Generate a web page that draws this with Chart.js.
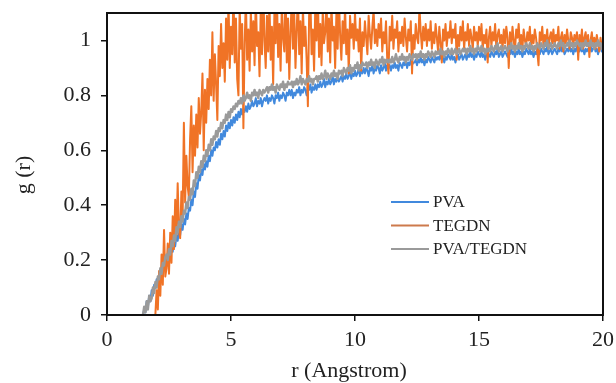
<!DOCTYPE html>
<html>
<head>
<meta charset="utf-8">
<script src="https://cdn.jsdelivr.net/npm/chart.js@4.4.1/dist/chart.umd.min.js"></script>
<style>
  html, body { margin: 0; padding: 0; background: #fff; }
  #wrap { width: 616px; height: 383px; position: relative; }
</style>
</head>
<body>
<div id="wrap"><canvas id="rdf"></canvas></div>
<script>
// sampling grid of r (Angstrom)
const rStep = 0.05;
const pvaStart = 1.40;
const tegdnStart = 1.90;
const blendStart = 1.40;

const seriesNames = ['PVA', 'TEGDN', 'PVA/TEGDN'];

// g(r) of PVA, one row per Angstrom
const pvaValues = [
  0.00, 0.00, 0.02, 0.01, 0.05, 0.03, 0.07, 0.05, 0.09, 0.07, 0.11, 0.10, 0.13, 0.11, 0.15, 0.13, 0.17, 0.15, 0.18, 0.17,
  0.20, 0.18, 0.22, 0.20, 0.25, 0.23, 0.27, 0.25, 0.29, 0.27, 0.31, 0.29, 0.33, 0.31, 0.35, 0.33, 0.37, 0.35, 0.39, 0.38,
  0.42, 0.40, 0.45, 0.43, 0.48, 0.46, 0.51, 0.49, 0.53, 0.51, 0.55, 0.53, 0.56, 0.54, 0.58, 0.56, 0.60, 0.58, 0.61, 0.60,
  0.63, 0.61, 0.64, 0.62, 0.66, 0.64, 0.67, 0.65, 0.69, 0.67, 0.70, 0.68, 0.71, 0.69, 0.72, 0.70, 0.73, 0.71, 0.74, 0.72,
  0.75, 0.73, 0.75, 0.74, 0.76, 0.74, 0.77, 0.75, 0.76, 0.78, 0.76, 0.77, 0.79, 0.76, 0.78, 0.77, 0.79, 0.76, 0.78, 0.79,
  0.78, 0.80, 0.77, 0.79, 0.78, 0.80, 0.79, 0.77, 0.80, 0.79, 0.81, 0.78, 0.80, 0.79, 0.81, 0.80, 0.78, 0.81, 0.80, 0.82,
  0.80, 0.82, 0.79, 0.81, 0.80, 0.82, 0.81, 0.83, 0.80, 0.82, 0.81, 0.83, 0.82, 0.80, 0.83, 0.82, 0.84, 0.81, 0.83, 0.82,
  0.84, 0.82, 0.84, 0.83, 0.85, 0.83, 0.84, 0.86, 0.83, 0.85, 0.84, 0.86, 0.84, 0.85, 0.87, 0.84, 0.86, 0.85, 0.87, 0.85,
  0.86, 0.87, 0.85, 0.87, 0.86, 0.88, 0.86, 0.87, 0.89, 0.86, 0.88, 0.87, 0.89, 0.87, 0.88, 0.90, 0.87, 0.89, 0.88, 0.90,
  0.88, 0.90, 0.89, 0.87, 0.90, 0.89, 0.91, 0.88, 0.90, 0.89, 0.91, 0.90, 0.88, 0.91, 0.89, 0.90, 0.92, 0.89, 0.91, 0.90,
  0.91, 0.89, 0.91, 0.90, 0.92, 0.90, 0.91, 0.89, 0.92, 0.91, 0.90, 0.92, 0.91, 0.93, 0.90, 0.92, 0.91, 0.93, 0.91, 0.92,
  0.92, 0.93, 0.91, 0.93, 0.92, 0.94, 0.92, 0.93, 0.91, 0.93, 0.92, 0.94, 0.93, 0.92, 0.94, 0.93, 0.92, 0.94, 0.93, 0.94,
  0.93, 0.95, 0.93, 0.94, 0.92, 0.94, 0.93, 0.95, 0.94, 0.93, 0.95, 0.93, 0.94, 0.92, 0.94, 0.95, 0.93, 0.94, 0.95, 0.93,
  0.94, 0.95, 0.93, 0.95, 0.94, 0.96, 0.94, 0.95, 0.93, 0.95, 0.94, 0.96, 0.95, 0.94, 0.96, 0.94, 0.95, 0.93, 0.95, 0.94,
  0.95, 0.94, 0.96, 0.95, 0.94, 0.96, 0.95, 0.97, 0.94, 0.95, 0.96, 0.94, 0.95, 0.96, 0.95, 0.94, 0.96, 0.95, 0.97, 0.95,
  0.96, 0.94, 0.96, 0.95, 0.97, 0.95, 0.96, 0.94, 0.96, 0.95, 0.97, 0.96, 0.95, 0.97, 0.95, 0.96, 0.94, 0.96, 0.95, 0.97,
  0.96, 0.95, 0.97, 0.96, 0.95, 0.97, 0.96, 0.98, 0.95, 0.96, 0.97, 0.95, 0.96, 0.97, 0.96, 0.95, 0.97, 0.96, 0.98, 0.96,
  0.97, 0.95, 0.96, 0.97, 0.96, 0.98, 0.96, 0.97, 0.95, 0.97, 0.96, 0.98, 0.97, 0.96, 0.98, 0.96, 0.97, 0.95, 0.97, 0.96,
  0.97, 0.96, 0.98, 0.96, 0.97, 0.98, 0.96, 0.97, 0.95, 0.97, 0.98, 0.96, 0.97
];

// g(r) of TEGDN
const tegdnValues = [
  0.00, 0.00, 0.09, 0.02, 0.16, 0.07, 0.22, 0.11, 0.31, 0.14, 0.17, 0.26, 0.15, 0.30, 0.19, 0.36, 0.24, 0.42, 0.29, 0.48,
  0.31, 0.28, 0.45, 0.36, 0.70, 0.41, 0.58, 0.47, 0.43, 0.64, 0.76, 0.52, 0.69, 0.58, 0.73, 0.61, 0.79, 0.66, 0.74, 0.88,
  0.60, 0.82, 0.70, 0.86, 0.75, 0.93, 0.80, 1.03, 0.78, 0.95, 0.84, 0.71, 0.98, 0.87, 1.06, 0.90, 0.99, 0.85, 1.08, 0.93,
  1.14, 0.90, 1.05, 0.95, 1.18, 0.92, 1.08, 0.86, 0.80, 1.12, 0.97, 1.06, 0.68, 0.99, 1.15, 0.93, 1.04, 0.89, 1.11, 0.96,
  1.07, 0.91, 1.16, 0.98, 1.03, 0.87, 1.12, 0.95, 1.20, 1.00, 0.90, 1.09, 0.96, 1.14, 0.93, 1.05, 0.84, 1.10, 0.99, 1.17,
  0.94, 1.06, 0.89, 1.13, 1.01, 0.96, 1.19, 0.92, 1.08, 0.86, 1.03, 1.15, 0.97, 1.10, 0.90, 1.04, 1.17, 0.95, 1.07, 0.88,
  1.12, 0.98, 1.05, 0.93, 0.76, 1.09, 1.16, 0.95, 1.04, 0.89, 1.13, 1.00, 1.18, 0.94, 1.06, 0.91, 1.11, 0.99, 1.03, 1.15,
  0.96, 1.08, 0.92, 1.13, 1.00, 1.05, 0.90, 1.10, 0.97, 1.16, 1.02, 0.93, 1.07, 0.99, 1.12, 0.95, 1.04, 0.88, 1.09, 1.01,
  1.06, 0.97, 1.10, 1.00, 1.04, 0.96, 1.08, 0.89, 1.03, 0.98, 1.07, 1.01, 0.95, 1.09, 1.02, 0.97, 1.05, 1.11, 0.99, 1.04,
  0.98, 1.06, 1.01, 1.08, 0.96, 1.03, 0.99, 1.07, 0.93, 0.88, 1.05, 1.00, 1.09, 0.97, 1.04, 1.01, 1.07, 0.96, 1.03, 0.99,
  1.05, 0.98, 1.08, 1.01, 0.96, 1.04, 1.00, 1.07, 0.88, 1.02, 0.97, 1.06, 1.01, 0.99, 1.12, 1.03, 0.97, 1.05, 1.00, 1.06,
  0.98, 1.04, 1.00, 1.07, 0.97, 1.03, 0.99, 1.06, 1.01, 0.96, 1.05, 0.99, 0.92, 1.04, 1.00, 1.06, 0.98, 1.03, 1.01, 1.07,
  0.99, 1.04, 1.01, 1.06, 0.93, 1.02, 0.98, 1.05, 1.00, 1.07, 0.97, 1.03, 1.00, 1.06, 0.98, 1.04, 1.01, 0.97, 1.05, 1.00,
  1.03, 0.98, 1.05, 1.00, 1.06, 0.97, 1.02, 0.99, 1.04, 0.92, 1.01, 1.05, 0.98, 1.03, 1.00, 1.06, 0.97, 1.02, 1.04, 0.99,
  1.02, 0.97, 1.04, 0.99, 1.05, 1.01, 0.90, 1.03, 0.98, 1.05, 1.00, 0.96, 1.04, 1.01, 1.06, 0.98, 1.02, 0.97, 1.04, 1.00,
  0.98, 1.03, 1.00, 1.05, 0.97, 1.02, 0.99, 1.04, 1.01, 0.96, 0.91, 1.03, 1.00, 1.05, 0.98, 1.02, 0.99, 1.04, 0.97, 1.01,
  1.03, 0.99, 1.04, 0.98, 1.02, 1.00, 1.05, 0.97, 1.01, 1.03, 0.96, 1.02, 0.99, 1.04, 1.00, 0.97, 1.03, 1.01, 0.98, 1.02,
  1.00, 1.03, 0.93, 1.02, 0.99, 1.04, 0.97, 1.01, 1.03, 0.98, 1.02, 0.94, 1.00, 1.03, 0.98, 1.01, 0.97, 1.02, 0.99, 0.96,
  1.01, 0.97, 1.00
];

// g(r) of the PVA/TEGDN blend
const blendValues = [
  0.00, 0.00, 0.03, 0.01, 0.05, 0.02, 0.07, 0.05, 0.06, 0.10, 0.08, 0.12, 0.10, 0.14, 0.13, 0.17, 0.15, 0.19, 0.18, 0.21,
  0.22, 0.20, 0.24, 0.22, 0.27, 0.25, 0.29, 0.27, 0.32, 0.30, 0.34, 0.32, 0.36, 0.34, 0.38, 0.37, 0.41, 0.39, 0.43, 0.42,
  0.46, 0.44, 0.49, 0.47, 0.52, 0.50, 0.54, 0.52, 0.56, 0.54, 0.58, 0.56, 0.60, 0.58, 0.62, 0.60, 0.64, 0.62, 0.65, 0.64,
  0.67, 0.65, 0.68, 0.67, 0.70, 0.68, 0.71, 0.70, 0.73, 0.71, 0.74, 0.72, 0.75, 0.74, 0.76, 0.75, 0.77, 0.76, 0.78, 0.77,
  0.79, 0.77, 0.80, 0.78, 0.79, 0.81, 0.79, 0.80, 0.78, 0.81, 0.80, 0.82, 0.80, 0.81, 0.79, 0.82, 0.81, 0.80, 0.82, 0.81,
  0.82, 0.83, 0.81, 0.83, 0.82, 0.84, 0.82, 0.83, 0.81, 0.84, 0.83, 0.82, 0.84, 0.83, 0.85, 0.82, 0.84, 0.83, 0.85, 0.84,
  0.84, 0.85, 0.83, 0.85, 0.84, 0.86, 0.84, 0.85, 0.87, 0.84, 0.86, 0.85, 0.84, 0.86, 0.85, 0.87, 0.85, 0.86, 0.84, 0.86,
  0.86, 0.87, 0.85, 0.87, 0.86, 0.88, 0.86, 0.87, 0.89, 0.86, 0.88, 0.87, 0.86, 0.88, 0.87, 0.89, 0.87, 0.88, 0.86, 0.89,
  0.88, 0.89, 0.87, 0.90, 0.89, 0.88, 0.90, 0.89, 0.91, 0.88, 0.90, 0.89, 0.91, 0.90, 0.92, 0.89, 0.91, 0.90, 0.92, 0.91,
  0.91, 0.92, 0.90, 0.92, 0.91, 0.93, 0.91, 0.92, 0.90, 0.93, 0.92, 0.91, 0.93, 0.92, 0.94, 0.91, 0.93, 0.92, 0.93, 0.92,
  0.93, 0.92, 0.94, 0.92, 0.93, 0.95, 0.93, 0.92, 0.94, 0.93, 0.95, 0.93, 0.94, 0.92, 0.94, 0.93, 0.95, 0.94, 0.93, 0.95,
  0.94, 0.95, 0.93, 0.95, 0.94, 0.96, 0.94, 0.95, 0.93, 0.95, 0.94, 0.96, 0.95, 0.94, 0.96, 0.95, 0.94, 0.96, 0.95, 0.96,
  0.95, 0.97, 0.95, 0.96, 0.94, 0.96, 0.95, 0.97, 0.96, 0.95, 0.97, 0.95, 0.96, 0.97, 0.95, 0.96, 0.97, 0.95, 0.96, 0.97,
  0.96, 0.97, 0.95, 0.97, 0.96, 0.98, 0.96, 0.97, 0.95, 0.97, 0.96, 0.98, 0.97, 0.96, 0.98, 0.96, 0.97, 0.95, 0.97, 0.96,
  0.97, 0.96, 0.98, 0.97, 0.96, 0.98, 0.97, 0.99, 0.96, 0.97, 0.98, 0.96, 0.97, 0.98, 0.97, 0.96, 0.98, 0.97, 0.99, 0.97,
  0.98, 0.96, 0.98, 0.97, 0.99, 0.97, 0.98, 0.96, 0.98, 0.97, 0.99, 0.98, 0.97, 0.99, 0.97, 0.98, 0.96, 0.98, 0.97, 0.99,
  0.98, 0.97, 0.99, 0.98, 0.97, 0.99, 0.98, 1.00, 0.97, 0.98, 0.99, 0.97, 0.98, 0.99, 0.98, 0.97, 0.99, 0.98, 1.00, 0.98,
  0.99, 0.97, 0.98, 0.99, 0.98, 1.00, 0.98, 0.99, 0.97, 0.99, 0.98, 1.00, 0.99, 0.98, 0.99, 0.97, 0.99, 0.98, 1.00, 0.98,
  0.99, 0.98, 1.00, 0.98, 0.99, 0.97, 0.99, 0.98, 1.00, 0.98, 0.99, 0.97, 0.99
];

const xTickValues = [0, 5, 10, 15, 20];
const xTickLabels = ['0', '5', '10', '15', '20'];
const yTickValues = [0, 0.2, 0.4, 0.6, 0.8, 1];
const yTickLabels = ['0', '0.2', '0.4', '0.6', '0.8', '1'];

const serif = "'Liberation Serif', 'Times New Roman', serif";

function toPoints(start, values) {
    return values.map(function(v, i) {
        return { x: +(start + i * rStep).toFixed(2), y: v };
    });
}

function tickFromList(values, labels) {
    return {
        afterBuildTicks: function(scale) {
            scale.ticks = values.map(function(v) { return { value: v }; });
        },
        callback: function(value) {
            const i = values.indexOf(value);
            return i >= 0 ? labels[i] : '';
        }
    };
}

// box round the plot area
const framePlugin = {
    id: 'frame',
    afterDatasetsDraw: function(chart) {
        const a = chart.chartArea;
        const ctx = chart.ctx;
        ctx.save();
        ctx.strokeStyle = '#111';
        ctx.lineWidth = 2;
        ctx.strokeRect(a.left, a.top, a.right - a.left, a.bottom - a.top);
        ctx.restore();
    }
};

// axis titles and the legend inside the plot
const textPlugin = {
    id: 'texts',
    afterDraw: function(chart) {
        const a = chart.chartArea;
        const ctx = chart.ctx;
        ctx.save();
        ctx.fillStyle = '#222';
        ctx.font = '22px ' + serif;
        ctx.textAlign = 'center';
        ctx.textBaseline = 'middle';
        ctx.fillText('r (Angstrom)', (a.left + a.right) / 2 - 6, 371);

        ctx.save();
        ctx.translate(24, 175);
        ctx.rotate(-Math.PI / 2);
        ctx.fillText('g (r)', 0, 0);
        ctx.restore();

        ctx.font = '17px ' + serif;
        ctx.textAlign = 'left';
        const lx = a.left + 284;
        const ly = a.top + 189;
        chart.data.datasets.forEach(function(ds, i) {
            const y = ly + i * 23.5;
            ctx.strokeStyle = ds.legendColor || ds.borderColor;
            ctx.lineWidth = 2;
            ctx.beginPath();
            ctx.moveTo(lx, y);
            ctx.lineTo(lx + 38, y);
            ctx.stroke();
            ctx.fillStyle = '#222';
            ctx.fillText(ds.label, lx + 42, y + 1);
        });
        ctx.restore();
    }
};

document.addEventListener('DOMContentLoaded', function() {
    const canvas = document.getElementById('rdf');
    const ctx = canvas.getContext('2d');

    const xTicks = tickFromList(xTickValues, xTickLabels);
    const yTicks = tickFromList(yTickValues, yTickLabels);

    new Chart(ctx, {
        type: 'line',
        data: {
            datasets: [{
                label: seriesNames[0],
                data: toPoints(pvaStart, pvaValues),
                borderColor: '#4189dd',
                borderWidth: 2,
                order: 3
            }, {
                label: seriesNames[1],
                data: toPoints(tegdnStart, tegdnValues),
                borderColor: '#f07326',
                legendColor: '#cd7a4c',
                borderWidth: 2,
                order: 2
            }, {
                label: seriesNames[2],
                data: toPoints(blendStart, blendValues),
                borderColor: '#9a9a9a',
                borderWidth: 2.4,
                order: 1
            }]
        },
        options: {
            responsive: true,
            maintainAspectRatio: false,
            animation: false,
            parsing: false,
            layout: { padding: { top: 13, right: 13, left: 0, bottom: 0 } },
            elements: {
                point: { radius: 0, hoverRadius: 0 },
                line: { tension: 0, borderJoinStyle: 'round', fill: false }
            },
            plugins: {
                legend: { display: false },
                tooltip: { enabled: false }
            },
            scales: {
                x: {
                    type: 'linear',
                    min: 0,
                    max: 20,
                    afterFit: function(s) {
                        s.height = 68;
                        s.paddingLeft = 0;
                        s.paddingRight = 0;
                    },
                    afterBuildTicks: xTicks.afterBuildTicks,
                    border: { display: false },
                    grid: { drawOnChartArea: false, drawTicks: true, tickLength: 6, color: '#111', lineWidth: 1.5 },
                    ticks: { callback: xTicks.callback, padding: 6, color: '#222', maxRotation: 0, font: { family: serif, size: 22 } }
                },
                y: {
                    type: 'linear',
                    min: 0,
                    max: 1.1,
                    afterFit: function(s) {
                        s.width = 107;
                        s.paddingTop = 0;
                        s.paddingBottom = 0;
                    },
                    afterBuildTicks: yTicks.afterBuildTicks,
                    border: { display: false },
                    grid: { drawOnChartArea: false, drawTicks: true, tickLength: 6, color: '#111', lineWidth: 1.5 },
                    ticks: { callback: yTicks.callback, padding: 10, color: '#222', font: { family: serif, size: 22 } }
                }
            }
        },
        plugins: [framePlugin, textPlugin]
    });
});
</script>
</body>
</html>
